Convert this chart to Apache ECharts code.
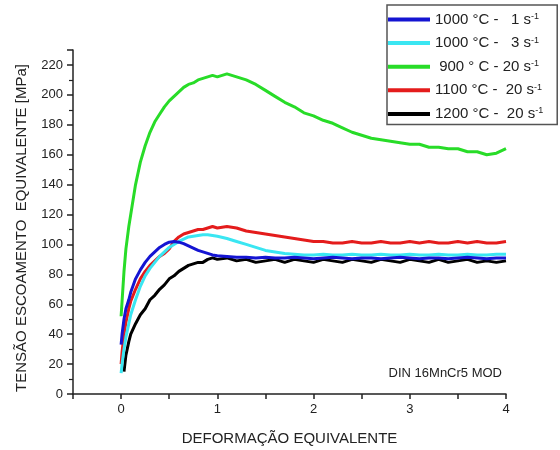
<!DOCTYPE html>
<html>
<head>
<meta charset="utf-8">
<script src="https://cdn.jsdelivr.net/npm/echarts@6/dist/echarts.min.js"></script>
<style>
  html, body { margin: 0; padding: 0; background: #fff; }
  #chart { width: 560px; height: 450px; }
</style>
</head>
<body>
<div id="chart"></div>
<script>
// deformação equivalente (shared x for all curves)
var strain = [0, 0.01, 0.03, 0.05, 0.08, 0.1, 0.15, 0.2, 0.25, 0.3, 0.35, 0.4, 0.45, 0.5, 0.55, 0.6, 0.65, 0.7, 0.75, 0.8, 0.85, 0.9, 0.95, 1.0,
  1.1, 1.2, 1.3, 1.4, 1.5, 1.6, 1.7, 1.8, 1.9, 2.0, 2.1, 2.2, 2.3, 2.4, 2.5, 2.6, 2.7, 2.8, 2.9, 3.0,
  3.1, 3.2, 3.3, 3.4, 3.5, 3.6, 3.7, 3.8, 3.9, 4.0]

// tensão [MPa]
var t1000_1 = [33, 40, 50, 57, 63, 68, 77, 83, 88, 92, 95, 98, 100, 101.5, 102, 101.5, 100.5, 99, 97.5, 96, 95, 94, 93, 92.5,
  92, 91.5, 91.5, 91, 91.5, 91, 91, 91.5, 91, 90.5, 91, 91.5, 91, 90.5, 91, 91, 90.5, 91, 91.5, 91,
  90.5, 91, 91, 90.5, 91, 91.5, 91, 90.5, 91, 91]
var t1000_3 = [14, 20, 30, 38, 47, 53, 63, 72, 79, 84, 88, 92, 95, 98, 100, 102, 103.5, 105, 105.5, 106, 106.5, 106.5, 106, 105.5,
  104, 102, 100, 98, 96, 95, 94, 93.5, 93, 93, 93.5, 93, 93, 93.5, 93, 93, 93.5, 93, 93, 93.5,
  93, 93, 93.5, 93, 93, 93.5, 93, 93, 93.5, 93.5]
var t900_20 = [52, 62, 82, 97, 112, 120, 140, 155, 166, 175, 182, 187, 192, 196, 199, 202, 205, 207, 208, 210, 211, 212, 213, 212,
  214, 212, 210, 207, 203, 199, 195, 192, 188, 186, 183, 181, 178, 175, 173, 171, 170, 169, 168, 167,
  167, 165, 165, 164, 164, 162, 162, 160, 161, 164]
var t1100_20 = [20, 28, 40, 48, 57, 62, 70, 77, 82, 86, 89, 92, 94, 97, 102, 105, 107, 108, 109, 110, 110, 111, 112, 111,
  112, 111, 109, 108, 107, 106, 105, 104, 103, 102, 102, 101, 101, 102, 101, 101, 102, 101, 101, 102,
  101, 102, 101, 101, 102, 101, 102, 101, 101, 102]
var t1200_20 = [null, null, 15, 26, 35, 40, 47, 53, 57, 63, 66, 70, 73, 77, 79, 82, 84, 86, 87, 88, 88, 90, 91, 90,
  91, 89, 90, 88, 89, 90, 88, 90, 89, 88, 90, 89, 88, 90, 89, 88, 90, 89, 88, 90,
  89, 88, 90, 88, 89, 90, 88, 89, 88, 89]

var seriesNames = ['1000 °C -   1 s', '1000 °C -   3 s', ' 900 ° C - 20 s', '1100 °C -  20 s', '1200 °C -  20 s']
var seriesColors = ['#1414d2', '#3ae6f2', '#28dc28', '#e41c1c', '#000000']
var seriesValues = [t1000_1, t1000_3, t900_20, t1100_20, t1200_20]
var drawOrder = [2, 3, 4, 1, 0]

var FONT = 'Liberation Sans, Arial, sans-serif'

function pairs(ys) {
  return strain.map(function (x, i) { return [x, ys[i]] })
}

var series = drawOrder.map(function (k) {
  return {
    name: seriesNames[k],
    type: 'line',
    data: pairs(seriesValues[k]),
    showSymbol: false,
    symbol: 'none',
    animation: false,
    lineStyle: { color: seriesColors[k], width: 3 },
    itemStyle: { color: seriesColors[k] }
  }
})

var chart = echarts.init(document.getElementById('chart'))

chart.setOption({
  backgroundColor: '#fff',
  animation: false,
  grid: { left: 73, right: 54, top: 50, bottom: 56, outerBoundsMode: 'none' },
  legend: {
    data: seriesNames,
    orient: 'vertical',
    left: 387,
    top: 5,
    padding: [7, 14, 3, 1],
    icon: 'rect',
    itemWidth: 42,
    itemHeight: 4,
    itemGap: 8.6,
    borderColor: '#555',
    borderWidth: 1.5,
    backgroundColor: '#fff',
    formatter: function (name) {
      return '{t|' + name + '}{s|-1}'
    },
    textStyle: {
      rich: {
        t: { fontFamily: FONT, fontSize: 15, color: '#222' },
        s: { fontFamily: FONT, fontSize: 9, color: '#222', verticalAlign: 'top' }
      }
    }
  },
  xAxis: {
    type: 'value',
    min: -0.5,
    max: 4,
    interval: 0.5,
    name: 'DEFORMAÇÃO EQUIVALENTE',
    nameLocation: 'middle',
    nameGap: 37,
    nameTextStyle: { fontFamily: FONT, fontSize: 15, color: '#222' },
    axisLine: { onZero: false, lineStyle: { color: '#222', width: 1.5 } },
    axisTick: { length: 5, lineStyle: { color: '#222', width: 1.5 } },
    axisLabel: {
      fontFamily: FONT, fontSize: 13, color: '#222', margin: 9,
      formatter: function (v) { return (v >= 0 && v % 1 === 0) ? String(v) : '' }
    },
    splitLine: { show: false }
  },
  yAxis: {
    type: 'value',
    min: 0,
    max: 230,
    interval: 20,
    axisLine: { show: true, onZero: false, lineStyle: { color: '#222', width: 1.5 } },
    axisTick: { show: true, length: 6, lineStyle: { color: '#222', width: 1.5 } },
    minorTick: { show: true, splitNumber: 2, length: 4, lineStyle: { color: '#222', width: 1.2 } },
    axisLabel: {
      fontFamily: FONT, fontSize: 13, color: '#222', margin: 10,
      formatter: function (v) { return v > 220 ? '' : String(v) }
    },
    splitLine: { show: false },
    minorSplitLine: { show: false }
  },
  graphic: [
    {
      type: 'text',
      x: 22,
      y: 228,
      rotation: Math.PI / 2,
      style: {
        text: 'TENSÃO ESCOAMENTO  EQUIVALENTE [MPa]',
        font: '15px ' + FONT,
        fill: '#222',
        align: 'center',
        verticalAlign: 'middle'
      }
    },
    {
      type: 'text',
      x: 502,
      y: 373,
      style: {
        text: 'DIN 16MnCr5 MOD',
        font: '13px ' + FONT,
        fill: '#222',
        align: 'right',
        verticalAlign: 'middle'
      }
    }
  ],
  series: series
})
</script>
</body>
</html>
